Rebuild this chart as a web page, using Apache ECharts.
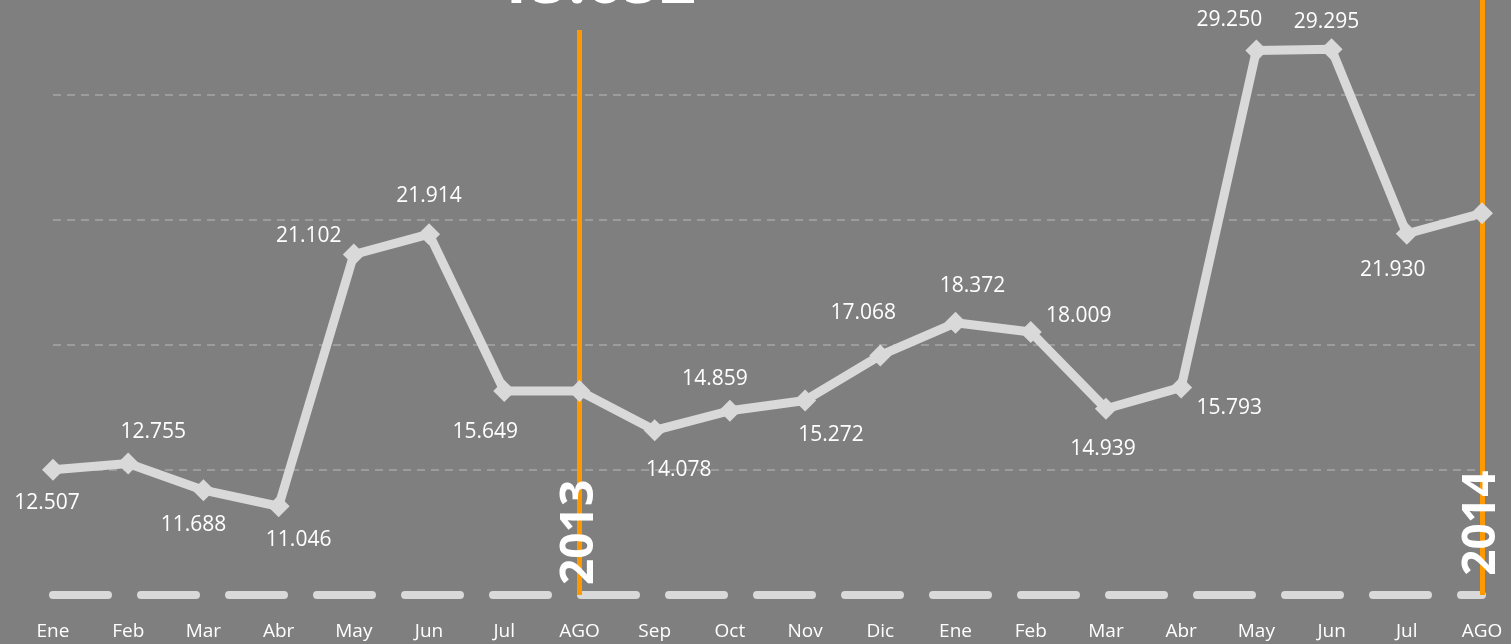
<!DOCTYPE html>
<html>
<head>
<meta charset="utf-8">
<script src="https://cdn.jsdelivr.net/npm/echarts@6/dist/echarts.min.js"></script>
<style>
  html, body { margin: 0; padding: 0; background: #7f7f7f; }
  #chart { width: 1511px; height: 644px; }
</style>
</head>
<body>
<div id="chart"></div>
<script>
// meses (dos años, cortes en AGO)
var months = ['Ene','Feb','Mar','Abr','May','Jun','Jul','AGO','Sep','Oct','Nov','Dic',
              'Ene','Feb','Mar','Abr','May','Jun','Jul','AGO'];
var values = [12.507, 12.755, 11.688, 11.046, 21.102, 21.914, 15.649, 15.652, 14.078, 14.859,
              15.272, 17.068, 18.372, 18.009, 14.939, 15.793, 29.250, 29.295, 21.930, 22.750];
var yearIndex = [7, 19];
var yearLabels = ['2013', '2014'];
var headline = '15.652';

// offsets of the value labels around each point (null = no label)
var labelOffsets = [[-6,33],[25,-31],[-10,35],[20,34],[-45,-18],[0,-38],[-19,41],null,
                    [24,40],[-15,-32],[26,35],[-17,-42],[17,-37],[48,-16],[-3,40],[48,21],
                    [-27,-30],[-5,-27],[-14,36],null];

var Y_MIN = 7.5, Y_MAX = 31.267;
var FONT = '"Open Sans", sans-serif';

var seriesData = values.map(function (v, i) {
    var off = labelOffsets[i];
    return {
        value: v,
        label: off ? { show: true, position: 'inside', offset: off } : { show: false }
    };
});

var bigLabel = { show: true, rotate: 90, position: 'inside', color: '#ffffff',
                 fontSize: 46, fontWeight: 'bold', fontFamily: FONT };

var chart = echarts.init(document.getElementById('chart'));
chart.setOption({
    animation: false,
    backgroundColor: '#7f7f7f',
    grid: { left: 53, right: 29, top: 0, bottom: 49, containLabel: false },
    xAxis: {
        type: 'category',
        data: months,
        boundaryGap: false,
        axisTick: { show: false },
        axisLine: {
            lineStyle: { color: '#d9d9d9', width: 8, type: [55, 33], cap: 'round' }
        },
        axisLabel: { color: '#ffffff', fontSize: 19, fontFamily: FONT, margin: 27 },
        splitLine: { show: false }
    },
    yAxis: {
        type: 'value',
        min: Y_MIN,
        max: Y_MAX,
        interval: 5,
        axisLine: { show: false },
        axisTick: { show: false },
        axisLabel: { show: false },
        splitLine: {
            show: true,
            showMinLine: false,
            showMaxLine: false,
            lineStyle: { color: '#a6a6a6', width: 1.5, type: [8, 6] }
        }
    },
    series: [
        {
            type: 'line',
            z: 3,
            data: seriesData,
            symbol: 'diamond',
            symbolSize: 22,
            lineStyle: { color: '#d9d9d9', width: 9 },
            itemStyle: { color: '#d9d9d9' },
            label: {
                color: '#ffffff',
                fontSize: 21,
                fontFamily: FONT,
                formatter: function (p) { return p.value.toFixed(3); }
            }
        },
        {
            // year markers: orange vertical lines + big labels
            type: 'line',
            z: 1,
            data: [],
            markLine: {
                silent: true,
                symbol: 'none',
                z: 1,
                label: { show: false },
                lineStyle: { color: '#ff9900', width: 5, type: 'solid' },
                data: [
                    [{ coord: [yearIndex[0], 30.07] }, { coord: [yearIndex[0], Y_MIN] }],
                    [{ coord: [yearIndex[1], Y_MAX] }, { coord: [yearIndex[1], Y_MIN] }]
                ]
            },
            markPoint: {
                silent: true,
                symbol: 'circle',
                symbolSize: 0,
                data: [
                    {
                        coord: [yearIndex[0], 10.0],
                        label: Object.assign({ formatter: yearLabels[0] }, bigLabel)
                    },
                    {
                        coord: [yearIndex[1], 10.45],
                        label: Object.assign({ formatter: yearLabels[1], offset: [-2, 0] }, bigLabel)
                    },
                    {
                        coord: [yearIndex[0], Y_MAX],
                        label: { show: true, formatter: headline, position: 'inside', offset: [16, -15],
                                 color: '#ffffff', fontSize: 64, fontWeight: 'bold', fontFamily: FONT }
                    }
                ]
            }
        }
    ]
});
</script>
</body>
</html>
